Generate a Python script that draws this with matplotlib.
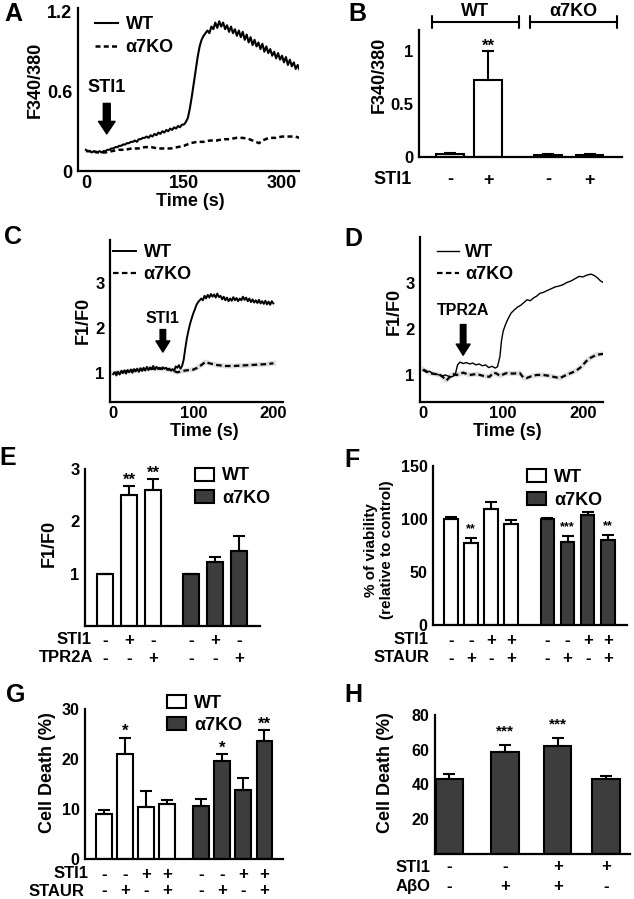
import numpy as np
import matplotlib
matplotlib.use("Agg")
import matplotlib.pyplot as plt
from matplotlib.patches import Patch
from matplotlib import transforms

plt.rcParams['font.family'] = ['Liberation Sans', 'DejaVu Sans']
plt.rcParams['font.weight'] = 'bold'
plt.rcParams['axes.labelweight'] = 'bold'

# ---------------- data ----------------
# A: F340/380 trace, WT sampled every 3 s
a_wt = [0.16, 0.15, 0.15, 0.14, 0.15, 0.14, 0.14, 0.15, 0.14, 0.15, 0.15,
        0.16, 0.16, 0.17, 0.17, 0.18, 0.18, 0.19, 0.19, 0.20, 0.20,
        0.21, 0.21, 0.22, 0.22, 0.23, 0.22, 0.24, 0.24, 0.25, 0.25,
        0.26, 0.25, 0.27, 0.26, 0.28, 0.27, 0.29, 0.28, 0.30, 0.29,
        0.31, 0.30, 0.32, 0.31, 0.33, 0.32, 0.34, 0.33, 0.35, 0.35,
        0.37, 0.40, 0.47, 0.56, 0.66, 0.76, 0.86, 0.94, 0.99, 1.02,
        1.04, 1.06, 1.04, 1.09, 1.07, 1.12, 1.08, 1.13, 1.09, 1.12,
        1.07, 1.10, 1.05, 1.09, 1.04, 1.07, 1.02, 1.06, 1.01, 1.05,
        0.99, 1.03, 0.97, 1.01, 0.95, 0.99, 0.94, 0.97, 0.92, 0.96,
        0.90, 0.94, 0.89, 0.92, 0.87, 0.90, 0.85, 0.89, 0.84, 0.87,
        0.82, 0.86, 0.80, 0.84, 0.79, 0.82, 0.77, 0.80, 0.76]
a_ko_t = [0, 10, 20, 30, 40, 50, 60, 70, 80, 90, 100, 110, 120, 130, 140, 150,
          160, 170, 180, 190, 200, 210, 220, 230, 240, 250, 260, 265, 270, 280,
          290, 300, 310, 320, 327]
a_ko = [0.15, 0.15, 0.14, 0.14, 0.15, 0.16, 0.16, 0.17, 0.17, 0.18, 0.18, 0.17,
        0.17, 0.17, 0.18, 0.19, 0.21, 0.22, 0.22, 0.23, 0.23, 0.24, 0.24, 0.25,
        0.25, 0.24, 0.22, 0.21, 0.23, 0.25, 0.25, 0.26, 0.26, 0.26, 0.25]

# B: F340/380 peak
b_sti1 = ['-', '+', '-', '+']
b_mean = [0.03, 0.73, 0.02, 0.02]
b_err = [0.005, 0.27, 0.005, 0.005]
b_star = ['', '**', '', '']

# C: F1/F0 trace, WT sampled every 2 s
c_wt = [0.98, 1.02, 0.95, 1.03, 0.97, 1.05, 1.00, 1.06, 0.99, 1.07, 1.02, 1.08,
        1.01, 1.09, 1.04, 1.10, 1.03, 1.11, 1.05, 1.12, 1.06, 1.14, 1.07, 1.13,
        1.09, 1.16, 1.08, 1.14, 1.10, 1.12, 1.09, 1.13, 1.10, 1.12, 1.08, 1.10,
        1.06, 1.09, 1.05, 1.15, 1.12, 1.18, 1.10, 1.16,
        1.30, 1.55, 1.78, 1.95, 2.10, 2.22, 2.33, 2.42, 2.52, 2.58, 2.62, 2.66,
        2.62, 2.72, 2.66, 2.74, 2.68, 2.76, 2.70, 2.75, 2.68, 2.77, 2.69, 2.72,
        2.64, 2.70, 2.62, 2.68, 2.60, 2.66, 2.61, 2.69, 2.62, 2.67, 2.60, 2.66,
        2.62, 2.70, 2.63, 2.68, 2.60, 2.66, 2.58, 2.64, 2.57, 2.62, 2.56, 2.63,
        2.55, 2.60, 2.54, 2.61, 2.53, 2.59, 2.52, 2.60, 2.55]
c_ko_t = [0, 10, 20, 30, 40, 50, 60, 70, 75, 80, 85, 90, 95, 100, 105, 110, 115,
          120, 130, 140, 150, 160, 170, 180, 190, 200]
c_ko = [1.00, 1.03, 1.05, 1.07, 1.09, 1.10, 1.10, 1.08, 1.05, 1.02, 1.04, 1.06,
        1.07, 1.08, 1.12, 1.18, 1.25, 1.22, 1.18, 1.16, 1.16, 1.17, 1.18, 1.19,
        1.20, 1.22]

# D: F1/F0 trace after TPR2A
d_wt_t = [0, 4, 8, 12, 16, 20, 24, 28, 32, 36, 40, 43, 46, 50, 54, 58, 62, 66,
          70, 74, 78, 82, 86, 90, 93, 96, 98, 100, 103, 106, 110, 114, 118, 122,
          126, 130, 134, 138, 142, 146, 150, 155, 160, 165, 170, 175, 180, 185,
          190, 195, 200, 205, 210, 214, 218, 222, 225]
d_wt = [1.10, 1.06, 1.08, 1.03, 1.02, 1.00, 0.98, 1.00, 0.97, 0.96, 1.00,
        1.22, 1.28, 1.25, 1.27, 1.24, 1.26, 1.22, 1.24, 1.20, 1.22, 1.16, 1.19,
        1.15, 1.18, 1.40, 1.75, 1.95, 2.10, 2.22, 2.35, 2.42, 2.48, 2.52, 2.58,
        2.64, 2.62, 2.68, 2.72, 2.78, 2.80, 2.84, 2.88, 2.92, 2.94, 2.97, 3.02,
        3.05, 3.10, 3.15, 3.14, 3.18, 3.20, 3.17, 3.12, 3.05, 3.02]
d_ko_t = [0, 8, 15, 21, 25, 29, 33, 37, 42, 50, 58, 67, 75, 83, 88, 92, 96, 104,
          112, 121, 125, 129, 135, 142, 150, 158, 163, 171, 179, 186, 192, 198,
          204, 210, 217, 225]
d_ko = [1.12, 1.04, 1.02, 1.00, 0.95, 0.88, 0.95, 1.02, 1.00, 1.05, 1.00, 1.02,
        0.98, 0.96, 1.05, 1.03, 0.98, 1.04, 1.03, 1.04, 0.95, 0.93, 0.97, 1.00,
        1.00, 0.98, 0.96, 0.93, 1.00, 1.05, 1.10, 1.18, 1.30, 1.38, 1.44, 1.46]

# E: F1/F0 summary
e_sti1 = ['-', '+', '-']
e_tpr2a = ['-', '-', '+']
e_wt = [1.0, 2.50, 2.59]
e_wt_err = [0.0, 0.18, 0.22]
e_ko = [1.0, 1.23, 1.44]
e_ko_err = [0.0, 0.08, 0.28]
e_wt_star = ['', '**', '**']

# F: viability
f_sti1 = ['-', '-', '+', '+']
f_staur = ['-', '+', '-', '+']
f_wt = [100, 77, 109, 95]
f_wt_err = [2, 5, 7, 4]
f_ko = [100, 78, 104, 80]
f_ko_err = [1, 5.5, 2.5, 4.5]
f_wt_star = ['', '**', '', '']
f_ko_star = ['', '***', '', '**']

# G: cell death
g_wt = [9.0, 21.0, 10.4, 11.1]
g_wt_err = [0.9, 3.3, 3.3, 0.8]
g_ko = [10.7, 19.7, 13.8, 23.6]
g_ko_err = [1.3, 1.3, 2.4, 2.2]
g_wt_star = ['', '*', '', '']
g_ko_star = ['', '*', '', '**']

# H: cell death with AbO
h_sti1 = ['-', '-', '+', '+']
h_abo = ['-', '+', '+', '-']
h_mean = [43, 58.5, 62, 43]
h_err = [2.8, 4.2, 4.6, 1.9]
h_star = ['', '***', '***', '']

# ---------------- drawing ----------------
W, H = 634, 899
DARK = '#3d3d3d'
fig = plt.figure(figsize=(W / 100, H / 100), dpi=100)


def box(l, t, r, b, fs=12):
    ax = fig.add_axes([l / W, 1 - b / H, (r - l) / W, (b - t) / H])
    ax.spines[['top', 'right']].set_visible(False)
    ax.spines[['left', 'bottom']].set_linewidth(1.6)
    ax.tick_params(length=0, pad=4, labelsize=fs)
    return ax


def ptext(x, y, s, **kw):
    kw.setdefault('ha', 'center')
    kw.setdefault('va', 'center')
    fig.text(x / W, 1 - y / H, s, **kw)


def bars(ax, pos, vals, errs, color, width):
    ax.bar(pos, vals, width=width, color=color, edgecolor='black',
           linewidth=1.5, zorder=2)
    ax.errorbar(pos, vals, yerr=[np.zeros(len(errs)), errs], fmt='none',
                ecolor='black', elinewidth=1.5, capsize=4, capthick=1.5,
                zorder=3)


def stars(ax, pos, vals, errs, marks, fs, dy):
    for x, v, e, s in zip(pos, vals, errs, marks):
        if s:
            ax.annotate(s, xy=(x, v + e), xytext=(0, dy),
                        textcoords='offset points', ha='center',
                        va='baseline', fontsize=fs)


def rows(ax, pos, signs, y, fs=12):
    tr = transforms.blended_transform_factory(ax.transData, fig.transFigure)
    for x, s in zip(pos, signs):
        ax.text(x, 1 - y / H, s, transform=tr, ha='center', va='center',
                fontsize=fs)


def bar_legend(ax, x, y, fs=13):
    hs = [Patch(facecolor='white', edgecolor='black', linewidth=1.5, label='WT'),
          Patch(facecolor=DARK, edgecolor='black', linewidth=1.5, label='α7KO')]
    ax.legend(handles=hs, loc='upper left', bbox_to_anchor=(x, y),
              frameon=False, fontsize=fs, borderpad=0, borderaxespad=0,
              handlelength=1.05, handleheight=0.75, handletextpad=0.45,
              labelspacing=0.3)


# ---- A ----
ax = box(78, 8, 299, 171, fs=13)
ax.plot(np.arange(len(a_wt)) * 3, a_wt, color='black', lw=1.5, label='WT')
ax.plot(a_ko_t, a_ko, color='black', lw=1.8, ls=(0, (2, 1.3)), label='α7KO')
ax.set_xlim(-12, 326)
ax.set_ylim(0, 1.23)
ax.set_xticks([0, 150, 300])
ax.set_yticks([0, 0.6, 1.2], ['0', '0.6', '1.2'])
ax.tick_params(axis='x', pad=3)
ax.annotate('', xy=(32, 0.28), xytext=(32, 0.51),
            arrowprops=dict(facecolor='black', edgecolor='black', width=5,
                            headwidth=12, headlength=9, shrink=0))
ax.text(32, 0.63, 'STI1', ha='center', va='center', fontsize=13)
ax.legend(loc='upper left', bbox_to_anchor=(0.077, 0.95), frameon=False,
          fontsize=13, borderpad=0, borderaxespad=0, handlelength=1.25,
          handletextpad=0.45, labelspacing=0.35)
ptext(35, 80, 'F340/380', rotation=90, fontsize=13)
ptext(190, 202, 'Time (s)', fontsize=13)
ptext(13, 14, 'A', fontsize=18)

# ---- B ----
ax = box(419, 30, 622, 157, fs=12)
b_pos = [0, 1, 2.58, 3.68]
bars(ax, b_pos[:2], b_mean[:2], b_err[:2], 'white', 0.72)
bars(ax, b_pos[2:], b_mean[2:], b_err[2:], DARK, 0.72)
stars(ax, b_pos, b_mean, b_err, b_star, 12, 0)
ax.set_xlim(-0.82, 4.53)
ax.set_ylim(0, 1.2)
ax.set_xticks([])
ax.set_yticks([0, 0.5, 1], ['0', '0.5', '1'])
rows(ax, b_pos, b_sti1, 180, fs=13)
ptext(412, 180, 'STI1', ha='right', fontsize=13)
for x0, x1, name in [(432, 519, 'WT'), (530, 617, 'α7KO')]:
    ax.annotate('', xy=(x0, H - 22), xytext=(x1, H - 22),
                xycoords='figure pixels', textcoords='figure pixels',
                arrowprops=dict(arrowstyle='|-|,widthA=0.35,widthB=0.35',
                                lw=1.5, color='black', shrinkA=0, shrinkB=0,
                                mutation_scale=12))
    ptext((x0 + x1) / 2, 12, name, fontsize=13)
ptext(379, 75, 'F340/380', rotation=90, fontsize=13)
ptext(357, 14, 'B', fontsize=18)

# ---- C ----
ax = box(110, 240, 283, 402)
ax.plot(c_ko_t, c_ko, color='#c8c8c8', lw=3.5, alpha=0.6)
ax.plot(np.arange(len(c_wt)) * 2, c_wt, color='black', lw=1.4, label='WT')
ax.plot(c_ko_t, c_ko, color='black', lw=1.6, ls=(0, (2.5, 1.5)), label='α7KO')
ax.set_xlim(-4, 212)
ax.set_ylim(0.36, 3.96)
ax.set_xticks([0, 100, 200])
ax.set_yticks([1, 2, 3])
ax.tick_params(axis='x', pad=3)
ax.annotate('', xy=(62, 1.47), xytext=(62, 1.97),
            arrowprops=dict(facecolor='black', edgecolor='black', width=4,
                            headwidth=10, headlength=8, shrink=0))
ax.text(62, 2.22, 'STI1', ha='center', va='center', fontsize=11.5)
h1, l1 = ax.get_legend_handles_labels()
ax.legend(h1[-2:], l1[-2:], loc='upper left', bbox_to_anchor=(0.017, 0.975),
          frameon=False, fontsize=13, borderpad=0, borderaxespad=0,
          handlelength=1.25, handletextpad=0.45, labelspacing=0.28)
ptext(83, 320, 'F1/F0', rotation=90, fontsize=13)
ptext(204, 431, 'Time (s)', fontsize=13)
ptext(13, 237, 'C', fontsize=18)

# ---- D ----
ax = box(420, 237, 603, 402)
ax.plot(d_ko_t, d_ko, color='#c8c8c8', lw=3.5, alpha=0.6)
ax.plot(d_wt_t, d_wt, color='black', lw=1.0, label='WT')
ax.plot(d_ko_t, d_ko, color='black', lw=1.6, ls=(0, (2.5, 1.5)), label='α7KO')
ax.set_xlim(-4, 225)
ax.set_ylim(0.41, 4.01)
ax.set_xticks([0, 100, 200])
ax.set_yticks([1, 2, 3])
ax.tick_params(axis='x', pad=3)
ax.annotate('', xy=(50, 1.43), xytext=(50, 2.1),
            arrowprops=dict(facecolor='black', edgecolor='black', width=4,
                            headwidth=10, headlength=8, shrink=0))
ax.text(50, 2.4, 'TPR2A', ha='center', va='center', fontsize=11.5)
h1, l1 = ax.get_legend_handles_labels()
ax.legend(h1[-2:], l1[-2:], loc='upper left', bbox_to_anchor=(0.093, 0.958),
          frameon=False, fontsize=13, borderpad=0, borderaxespad=0,
          handlelength=1.2, handletextpad=0.35, labelspacing=0.28)
ptext(394, 311, 'F1/F0', rotation=90, fontsize=13)
ptext(507, 431, 'Time (s)', fontsize=13)
ptext(353, 239, 'D', fontsize=18)

# ---- E ----
ax = box(85, 469, 260, 626)
e_pos_wt = [0, 1, 2]
e_pos_ko = [3.6, 4.6, 5.6]
bars(ax, e_pos_wt, e_wt, e_wt_err, 'white', 0.67)
bars(ax, e_pos_ko, e_ko, e_ko_err, DARK, 0.67)
stars(ax, e_pos_wt, e_wt, e_wt_err, e_wt_star, 12, 1)
ax.set_xlim(-0.83, 6.46)
ax.set_ylim(0, 3)
ax.set_xticks([])
ax.set_yticks([1, 2, 3])
rows(ax, e_pos_wt + e_pos_ko, e_sti1 + e_sti1, 640)
rows(ax, e_pos_wt + e_pos_ko, e_tpr2a + e_tpr2a, 658)
ptext(92, 640, 'STI1', ha='right', fontsize=12)
ptext(93, 658, 'TPR2A', ha='right', fontsize=12)
bar_legend(ax, 0.629, 1.01)
ptext(49, 543, 'F1/F0', rotation=90, fontsize=13)
ptext(8, 458, 'E', fontsize=18)

# ---- F ----
ax = box(433, 466, 627, 625, fs=11.5)
f_pos_wt = [0, 1, 2, 3]
f_pos_ko = [4.8, 5.8, 6.8, 7.8]
bars(ax, f_pos_wt, f_wt, f_wt_err, 'white', 0.68)
bars(ax, f_pos_ko, f_ko, f_ko_err, DARK, 0.68)
stars(ax, f_pos_wt, f_wt, f_wt_err, f_wt_star, 9, 4.5)
stars(ax, f_pos_ko, f_ko, f_ko_err, f_ko_star, 9, 4.5)
ax.set_xlim(-0.9, 8.76)
ax.set_ylim(0, 150)
ax.set_xticks([])
ax.set_yticks([0, 50, 100, 150])
rows(ax, f_pos_wt + f_pos_ko, f_sti1 + f_sti1, 640)
rows(ax, f_pos_wt + f_pos_ko, f_staur + f_staur, 658)
ptext(429, 640, 'STI1', ha='right', fontsize=12)
ptext(429, 658, 'STAUR', ha='right', fontsize=12)
bar_legend(ax, 0.485, 0.98)
ptext(379, 550, '% of viability\n(relative to control)', rotation=90,
      fontsize=11, linespacing=1.1)
ptext(352, 460, 'F', fontsize=18)

# ---- G ----
ax = box(85, 709, 283, 859, fs=11.5)
g_pos_wt = [0, 1, 2, 3]
g_pos_ko = [4.6, 5.6, 6.6, 7.6]
bars(ax, g_pos_wt, g_wt, g_wt_err, 'white', 0.75)
bars(ax, g_pos_ko, g_ko, g_ko_err, DARK, 0.75)
stars(ax, g_pos_wt, g_wt, g_wt_err, g_wt_star, 12, 1)
stars(ax, g_pos_ko, g_ko, g_ko_err, g_ko_star, 12, 1)
ax.set_xlim(-0.9, 8.48)
ax.set_ylim(0, 30)
ax.set_xticks([])
ax.set_yticks([0, 10, 20, 30])
rows(ax, g_pos_wt + g_pos_ko, f_sti1 + f_sti1, 874)
rows(ax, g_pos_wt + g_pos_ko, f_staur + f_staur, 891)
ptext(89, 874, 'STI1', ha='right', fontsize=12)
ptext(84, 891, 'STAUR', ha='right', fontsize=12)
bar_legend(ax, 0.414, 1.095)
ptext(48, 773, 'Cell Death (%)', rotation=90, fontsize=13)
ptext(16, 695, 'G', fontsize=18)

# ---- H ----
ax = box(435, 715, 630, 854, fs=11.5)
h_pos = [0, 1.07, 2.08, 3.0]
bars(ax, h_pos, h_mean, h_err, DARK, 0.52)
stars(ax, h_pos, h_mean, h_err, h_star, 11, 7)
ax.set_xlim(-0.27, 3.46)
ax.set_ylim(0, 80)
ax.set_xticks([])
ax.set_yticks([20, 40, 60, 80])
rows(ax, h_pos, h_sti1, 867)
rows(ax, h_pos, h_abo, 886)
ptext(431, 867, 'STI1', ha='right', fontsize=12)
ptext(431, 886, 'AβO', ha='right', fontsize=12)
ptext(385, 773, 'Cell Death (%)', rotation=90, fontsize=13)
ptext(353, 695, 'H', fontsize=18)

fig.savefig('out.png', dpi=100)
